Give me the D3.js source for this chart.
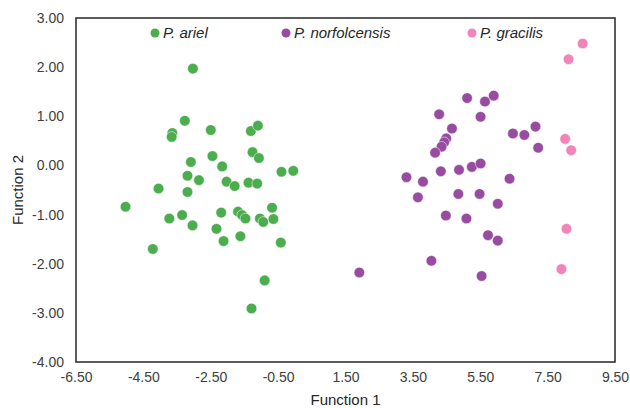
<!DOCTYPE html>
<html>
<head>
<meta charset="utf-8">
<script src="https://cdn.jsdelivr.net/npm/d3@7"></script>
<style>
  body { margin: 0; background: #fff; }
  svg { font-family: "Liberation Sans", Arial, sans-serif; }
  .tick text { fill: #404040; font-size: 14px; }
</style>
</head>
<body>
<script>
// discriminant scores: [function 1, function 2]
var ariel = [
  [-3.03, 1.97], [-3.27, 0.91], [-3.64, 0.66], [-3.66, 0.58], [-2.50, 0.72],
  [-1.31, 0.70], [-1.10, 0.81], [-2.45, 0.19], [-1.26, 0.27], [-1.07, 0.15],
  [-3.09, 0.07], [-2.16, -0.02], [-3.19, -0.21], [-2.85, -0.30], [-2.03, -0.33],
  [-1.79, -0.42], [-1.38, -0.35], [-1.12, -0.37], [-0.40, -0.13], [-0.05, -0.11],
  [-4.05, -0.47], [-3.19, -0.54], [-5.03, -0.84], [-3.73, -1.08], [-3.35, -1.01],
  [-3.04, -1.22], [-2.19, -0.96], [-2.33, -1.29], [-2.12, -1.54], [-1.69, -0.94],
  [-1.57, -1.01], [-1.47, -1.08], [-1.62, -1.44], [-1.04, -1.08], [-0.94, -1.15],
  [-0.68, -0.86], [-0.64, -1.09], [-0.42, -1.57], [-4.22, -1.70], [-0.90, -2.34],
  [-1.29, -2.91]
];
var norfolcensis = [
  [5.11, 1.37], [5.64, 1.30], [5.90, 1.42], [4.28, 1.04], [5.51, 0.99],
  [4.66, 0.75], [4.49, 0.55], [4.43, 0.47], [4.35, 0.38], [4.16, 0.26],
  [6.47, 0.65], [6.81, 0.62], [7.14, 0.79], [7.22, 0.36], [3.31, -0.24],
  [3.80, -0.33], [4.33, -0.12], [4.87, -0.09], [5.25, -0.03], [5.51, 0.04],
  [6.37, -0.27], [3.65, -0.65], [4.85, -0.58], [5.48, -0.58], [6.02, -0.78],
  [4.48, -1.02], [5.09, -1.08], [5.73, -1.42], [6.02, -1.53], [4.05, -1.94],
  [1.91, -2.18], [5.54, -2.25]
];
var gracilis = [
  [8.54, 2.48], [8.12, 2.16], [8.02, 0.54], [8.20, 0.31], [8.06, -1.29],
  [7.91, -2.11]
];

var groups = ["P. ariel", "P. norfolcensis", "P. gracilis"];
var colors = ["#4cad4e", "#974ca1", "#f184b8"];
var xTicks = [-6.5, -4.5, -2.5, -0.5, 1.5, 3.5, 5.5, 7.5, 9.5];
var yTicks = [-4, -3, -2, -1, 0, 1, 2, 3];

var W = 630, H = 408;
var margin = {top: 18, right: 15, bottom: 46, left: 76},
    width = W - margin.left - margin.right,
    height = H - margin.top - margin.bottom;

// hyphen as minus sign, like the original
var fmt = d3.formatLocale({decimal: ".", thousands: ",", grouping: [3], currency: ["", ""], minus: "-"}).format(".2f");

var svg = d3.select("body").append("svg")
    .attr("width", W)
    .attr("height", H);
var g = svg.append("g")
    .attr("transform", "translate(" + margin.left + "," + margin.top + ")");

var x = d3.scaleLinear().domain([-6.5, 9.5]).range([0, width]);
var y = d3.scaleLinear().domain([-4, 3]).range([height, 0]);

// axes, no tick marks
var xAxis = g.append("g")
    .attr("transform", "translate(0," + height + ")")
    .call(d3.axisBottom(x).tickValues(xTicks).tickFormat(fmt).tickSize(0).tickPadding(10));
var yAxis = g.append("g")
    .call(d3.axisLeft(y).tickValues(yTicks).tickFormat(fmt).tickSize(0).tickPadding(12));
xAxis.select(".domain").remove();
yAxis.select(".domain").remove();

// plot frame
g.append("rect")
    .attr("width", width)
    .attr("height", height)
    .attr("fill", "none")
    .attr("stroke", "#262626")
    .attr("stroke-width", 1.5);

// points
var sets = [ariel, norfolcensis, gracilis];
sets.forEach(function(pts, i) {
    g.append("g").selectAll("circle")
        .data(pts)
        .enter().append("circle")
        .attr("cx", function(d) { return x(d[0]); })
        .attr("cy", function(d) { return y(d[1]); })
        .attr("r", 5.3)
        .attr("fill", colors[i])
        .attr("stroke", "#fff")
        .attr("stroke-width", 0.5);
});

// legend inside the plot
var legendX = [155, 286, 472];
var legend = svg.append("g").selectAll("g")
    .data(groups)
    .enter().append("g")
    .attr("transform", function(d, i) { return "translate(" + legendX[i] + ",33)"; });
legend.append("circle")
    .attr("r", 4.5)
    .attr("fill", function(d, i) { return colors[i]; });
legend.append("text")
    .attr("x", 8)
    .attr("dy", "0.35em")
    .style("font-size", "15px")
    .style("font-style", "italic")
    .attr("fill", "#262626")
    .text(function(d) { return d; });

// axis titles
svg.append("text")
    .attr("x", margin.left + width / 2)
    .attr("y", 405)
    .attr("text-anchor", "middle")
    .style("font-size", "15px")
    .attr("fill", "#262626")
    .text("Function 1");
svg.append("text")
    .attr("transform", "translate(23," + (margin.top + height / 2) + ") rotate(-90)")
    .attr("text-anchor", "middle")
    .style("font-size", "15px")
    .attr("fill", "#262626")
    .text("Function 2");
</script>
</body>
</html>
